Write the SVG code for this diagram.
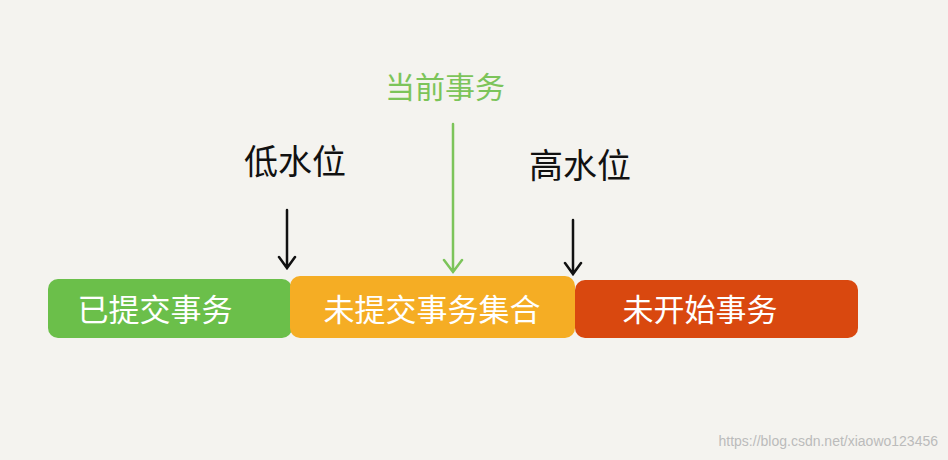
<svg xmlns="http://www.w3.org/2000/svg" width="948" height="460" viewBox="0 0 948 460">
<style>
.b{font-family:"Noto Sans CJK SC",sans-serif;font-size:31px;fill:#fff;text-anchor:middle}
.l{font-family:"Noto Sans CJK SC",sans-serif;font-size:34px;fill:#111;text-anchor:middle}
.a{stroke:#111;stroke-width:2.5;fill:none;stroke-linecap:round}
</style>
<rect width="948" height="460" fill="#f4f3ef"/>
<g id="committed"><rect x="48" y="279" width="244" height="59" rx="10" fill="#6bbf4a"/><text class="b" x="155" y="321">已提交事务</text></g>
<g id="uncommitted"><rect x="290" y="276" width="285" height="62" rx="10" fill="#f5ad24"/><text class="b" x="432" y="321">未提交事务集合</text></g>
<g id="notstarted"><rect x="575" y="280" width="283" height="58" rx="10" fill="#d9480f"/><text class="b" x="700" y="321">未开始事务</text></g>
<g id="low"><text class="l" x="295" y="174">低水位</text></g>
<g id="current"><text class="l" x="445" y="98" style="fill:#7cc45a;font-size:30px">当前事务</text></g>
<g id="high"><text class="l" x="580" y="178">高水位</text></g>
<g id="connectors">
<path class="a" d="M287 210V267M279 257l8 11l8-11"/>
<path class="a" d="M453 124V272M444 260l9 12l9-12" style="stroke:#7cc45a"/>
<path class="a" d="M573 220V273M565 263l8 11l8-11"/>
</g>
<text x="938" y="446" font-family="Liberation Sans,sans-serif" font-size="14" fill="#bbb" text-anchor="end">https://blog.csdn.net/xiaowo123456</text>
</svg>
